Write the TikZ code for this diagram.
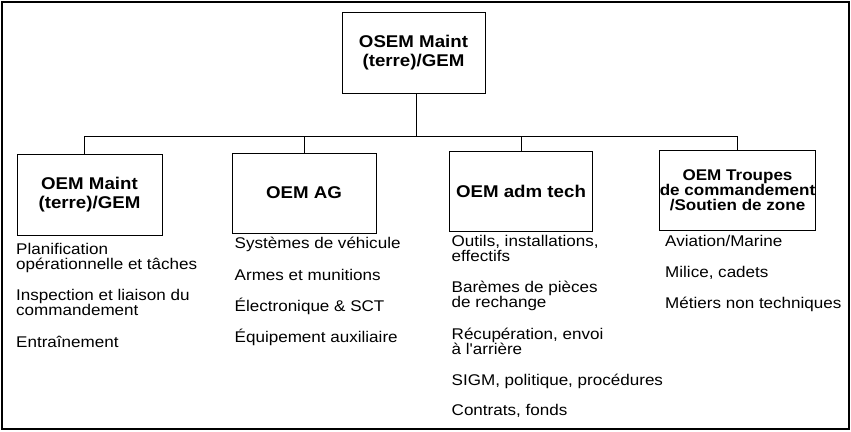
\documentclass[tikz,border=0pt]{standalone}
\usepackage{fontspec}
\newfontfamily\chartfont[FakeStretch=1.1]{Liberation Sans}
\begin{document}
\begin{tikzpicture}[x=1pt,y=-1pt,
  unit/.style={draw, line width=0.9pt, inner sep=0pt, align=center,
    minimum width=144pt, minimum height=80pt,
    font=\chartfont\bfseries\fontsize{17}{19}\selectfont},
  duty/.style={anchor=base west, inner sep=0pt, align=left,
    font=\chartfont\fontsize{15.5}{15}\selectfont},
  link/.style={line width=0.9pt}]
\useasboundingbox (0,0) rectangle (851,431);
% outer frame
\draw[line width=2pt] (2,2) rectangle (849,429);

% organisation boxes
\node[unit, minimum width=143pt, minimum height=81pt] (top) at (413.5,53) {OSEM Maint\\(terre)/GEM};
\node[unit, minimum width=145pt, minimum height=81pt] (c1) at (89.5,194.5) {OEM Maint\\(terre)/GEM};
\node[unit] (c2) at (304,193) {OEM AG};
\node[unit, minimum width=143.5pt] (c3) at (521,191) {OEM adm tech};
\node[unit, minimum width=145.5pt, font=\chartfont\bfseries\fontsize{15.5}{15}\selectfont] (c4) at (737.5,190)
  {OEM Troupes\\de commandement\\/Soutien de zone};

% connectors
\coordinate (bus) at (416,136);
\coordinate (j1) at (84,136);
\draw[link] (bus |- top.south) -- (bus);
\draw[link] (j1 |- c1.north) -- (j1) -- (c4.north |- bus) -- (c4.north);
\draw[link] (c2.north |- bus) -- (c2.north);
\draw[link] (c3.north |- bus) -- (c3.north);

% duties under each box (anchor sits on the baseline of the last line)
\node[duty] (p1) at (16,269) {Planification\\opérationnelle et tâches};
\node[duty] (p2) at (16,315) {Inspection et liaison du\\commandement};
\node[duty] (p3) at (16,347) {Entraînement};

\node[duty] (g1) at (234.5,248) {Systèmes de véhicule};
\node[duty] (g2) at (234.5,280) {Armes et munitions};
\node[duty] (g3) at (234.5,311) {Électronique \& SCT};
\node[duty] (g4) at (234.5,342) {Équipement auxiliaire};

\node[duty] (t1) at (451.5,261) {Outils, installations,\\effectifs};
\node[duty] (t2) at (451.5,307) {Barèmes de pièces\\de rechange};
\node[duty] (t3) at (451.5,354) {Récupération, envoi\\à l'arrière};
\node[duty] (t4) at (451.5,385) {SIGM, politique, procédures};
\node[duty] (t5) at (451.5,415) {Contrats, fonds};

\node[duty] (s1) at (665,246) {Aviation/Marine};
\node[duty] (s2) at (665,277) {Milice, cadets};
\node[duty] (s3) at (665,308) {Métiers non techniques};
\end{tikzpicture}
\end{document}
